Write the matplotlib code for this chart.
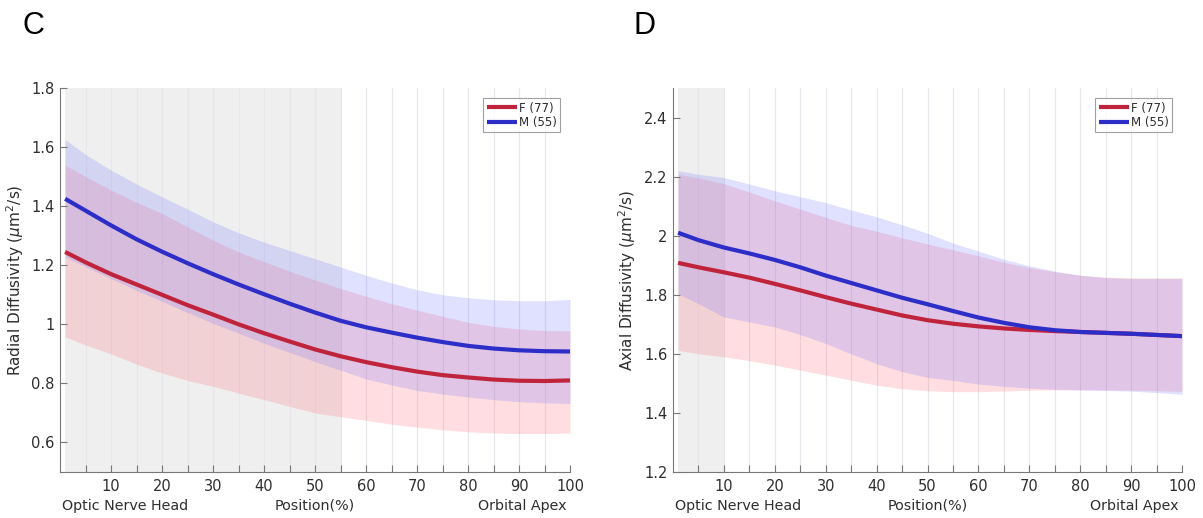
import matplotlib
matplotlib.use("Agg")
import matplotlib.pyplot as plt
import numpy as np

plt.rcParams['font.family'] = ['DejaVu Sans']
plt.rcParams['mathtext.fontset'] = 'dejavusans'

# ---------------- data ----------------
position = [1, 5, 10, 15, 20, 25, 30, 35, 40, 45, 50, 55, 60, 65, 70, 75, 80, 85, 90, 95, 100]
legend_labels = ["F (77)", "M (55)"]

# Panel C: Radial diffusivity
rd_f_mean = [1.245, 1.21, 1.17, 1.135, 1.10, 1.065, 1.033, 1.0, 0.97, 0.942, 0.915, 0.892, 0.872, 0.855, 0.84, 0.828, 0.82, 0.813, 0.809, 0.808, 0.81]
rd_f_low = [0.958, 0.93, 0.90, 0.865, 0.835, 0.81, 0.79, 0.767, 0.745, 0.722, 0.70, 0.687, 0.675, 0.662, 0.652, 0.643, 0.636, 0.632, 0.63, 0.63, 0.632]
rd_f_high = [1.539, 1.50, 1.454, 1.413, 1.375, 1.33, 1.285, 1.245, 1.212, 1.18, 1.15, 1.121, 1.095, 1.07, 1.048, 1.027, 1.007, 0.993, 0.984, 0.979, 0.978]
rd_m_mean = [1.425, 1.385, 1.335, 1.288, 1.246, 1.207, 1.17, 1.135, 1.102, 1.07, 1.04, 1.012, 0.99, 0.972, 0.955, 0.94, 0.927, 0.918, 0.912, 0.909, 0.908]
rd_m_low = [1.228, 1.195, 1.155, 1.115, 1.078, 1.04, 1.003, 0.97, 0.936, 0.905, 0.874, 0.845, 0.815, 0.795, 0.776, 0.764, 0.754, 0.745, 0.738, 0.734, 0.732]
rd_m_high = [1.626, 1.575, 1.522, 1.475, 1.432, 1.39, 1.347, 1.31, 1.278, 1.25, 1.222, 1.194, 1.166, 1.14, 1.117, 1.10, 1.09, 1.083, 1.08, 1.08, 1.084]

# Panel D: Axial diffusivity
ad_f_mean = [1.908, 1.893, 1.876, 1.858, 1.837, 1.815, 1.792, 1.77, 1.75, 1.73, 1.714, 1.702, 1.693, 1.686, 1.681, 1.677, 1.674, 1.671, 1.668, 1.664, 1.66]
ad_f_low = [1.612, 1.60, 1.59, 1.577, 1.562, 1.545, 1.528, 1.511, 1.494, 1.482, 1.475, 1.472, 1.472, 1.474, 1.477, 1.478, 1.478, 1.478, 1.477, 1.475, 1.473]
ad_f_high = [2.208, 2.195, 2.176, 2.148, 2.118, 2.09, 2.062, 2.035, 2.015, 1.993, 1.972, 1.952, 1.932, 1.91, 1.892, 1.878, 1.866, 1.86, 1.857, 1.857, 1.857]
ad_m_mean = [2.01, 1.985, 1.96, 1.94, 1.918, 1.893, 1.865, 1.84, 1.815, 1.79, 1.768, 1.745, 1.723, 1.705, 1.69, 1.68, 1.674, 1.671, 1.668, 1.664, 1.66]
ad_m_low = [1.803, 1.77, 1.725, 1.708, 1.691, 1.665, 1.635, 1.60, 1.567, 1.54, 1.52, 1.51, 1.498, 1.49, 1.484, 1.48, 1.478, 1.476, 1.474, 1.469, 1.463]
ad_m_high = [2.22, 2.208, 2.197, 2.175, 2.152, 2.132, 2.112, 2.087, 2.064, 2.037, 2.008, 1.975, 1.948, 1.92, 1.898, 1.88, 1.866, 1.858, 1.855, 1.855, 1.855]

x_ticks = [10, 20, 30, 40, 50, 60, 70, 80, 90, 100]
rd_yticks = [0.6, 0.8, 1.0, 1.2, 1.4, 1.6, 1.8]
rd_yticklabels = ["0.6", "0.8", "1", "1.2", "1.4", "1.6", "1.8"]
ad_yticks = [1.2, 1.4, 1.6, 1.8, 2.0, 2.2, 2.4]
ad_yticklabels = ["1.2", "1.4", "1.6", "1.8", "2", "2.2", "2.4"]

F_LINE = "#c0243c"
M_LINE = "#2d2dc8"
F_FILL = (1.0, 0.45, 0.5)
M_FILL = (0.45, 0.45, 1.0)
GRID = "#e6e6ec"
AXC = "#777777"
TXT = "#2e2e2e"

fig = plt.figure(figsize=(12.03, 5.18), dpi=100)
ax1 = fig.add_axes([60 / 1203, 46 / 518, 510 / 1203, 384 / 518])
ax2 = fig.add_axes([673 / 1203, 46 / 518, 509 / 1203, 384 / 518])


def draw(ax, shade_end, ylim, yticks, yticklabels, fm, fl, fh, mm, ml, mh, ylabel):
    ax.set_xlim(0, 100)
    ax.set_ylim(*ylim)
    ax.axvspan(1, shade_end, color="#efefef", lw=0, zorder=0)
    for gx in range(5, 101, 5):
        ax.axvline(gx, color=GRID, lw=0.8, zorder=0.5)
    ax.fill_between(position, fl, fh, color=F_FILL, alpha=0.24, lw=0, zorder=1)
    ax.fill_between(position, ml, mh, color=M_FILL, alpha=0.22, lw=0, zorder=1.1)
    ax.plot(position, fm, color=F_LINE, lw=3.0, label=legend_labels[0], zorder=3,
            solid_capstyle='butt')
    ax.plot(position, mm, color=M_LINE, lw=3.0, label=legend_labels[1], zorder=3.1,
            solid_capstyle='butt')
    for s in ["top", "right"]:
        ax.spines[s].set_visible(False)
    for s in ["left", "bottom"]:
        ax.spines[s].set_color(AXC)
        ax.spines[s].set_linewidth(0.8)
    ax.set_xticks(x_ticks)
    ax.set_xticks(range(5, 100, 10), minor=True)
    ax.set_yticks(yticks)
    ax.set_yticklabels(yticklabels)
    ax.tick_params(axis='both', which='both', direction='in', color=AXC,
                   labelsize=10.5, labelcolor=TXT, width=0.8)
    ax.tick_params(axis='x', which='major', length=5, pad=5)
    ax.tick_params(axis='x', which='minor', length=5)
    ax.tick_params(axis='y', length=5, pad=4)
    ax.set_ylabel(ylabel, fontsize=11, color=TXT, labelpad=4)
    ax.text(0.004, -0.088, "Optic Nerve Head", transform=ax.transAxes, ha="left",
            va="center", fontsize=10.3, color=TXT)
    ax.text(0.50, -0.088, "Position(%)", transform=ax.transAxes, ha="center",
            va="center", fontsize=10.3, color=TXT)
    ax.text(0.993, -0.088, "Orbital Apex", transform=ax.transAxes, ha="right",
            va="center", fontsize=10.3, color=TXT)
    leg = ax.legend(loc="upper right", bbox_to_anchor=(0.985, 0.98),
                    prop={'size': 8.5}, frameon=True, fancybox=False,
                    handlelength=2.6, handletextpad=0.1, borderpad=0.3,
                    labelspacing=0.1, borderaxespad=0.2)
    leg.get_frame().set_edgecolor("#8a8a8a")
    leg.get_frame().set_linewidth(0.8)
    for t in leg.get_texts():
        t.set_color(TXT)
    leg.set_zorder(5)


draw(ax1, 55, (0.5, 1.8), rd_yticks, rd_yticklabels,
     rd_f_mean, rd_f_low, rd_f_high, rd_m_mean, rd_m_low, rd_m_high,
     r"Radial Diffusivity ($\mu$m$^2$/s)")
draw(ax2, 10, (1.2, 2.5), ad_yticks, ad_yticklabels,
     ad_f_mean, ad_f_low, ad_f_high, ad_m_mean, ad_m_low, ad_m_high,
     r"Axial Diffusivity ($\mu$m$^2$/s)")

fig.text(22 / 1203, 1 - 26 / 518, "C", fontsize=22, ha="left", va="center",
         family="Liberation Sans")
fig.text(634 / 1203, 1 - 26 / 518, "D", fontsize=22, ha="left", va="center",
         family="Liberation Sans")

fig.savefig("out.png", dpi=100, facecolor="white")
